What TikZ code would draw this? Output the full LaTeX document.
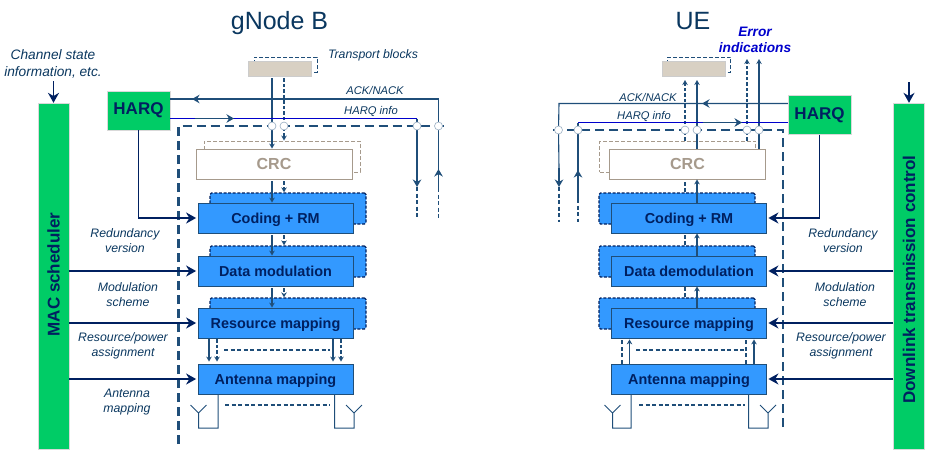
\documentclass[tikz,border=0pt]{standalone}
\usepackage{fontspec}
\setmainfont{Liberation Sans}
\setsansfont{Liberation Sans}
\usetikzlibrary{arrows.meta, positioning, backgrounds}

\definecolor{ctrlgreen}{RGB}{0,204,102}
\definecolor{blockblue}{RGB}{51,153,255}
\definecolor{navy}{RGB}{0,32,96}
\definecolor{sigblue}{RGB}{31,78,121}
\definecolor{inktext}{RGB}{10,55,95}
\definecolor{infoblue}{RGB}{0,0,204}
\definecolor{crctan}{RGB}{166,154,140}
\definecolor{tbfill}{RGB}{216,208,195}

\begin{document}
\begin{tikzpicture}[
    x=1pt, y=-1pt,
    block/.style = {draw=sigblue, fill=blockblue, line width=0.8pt, minimum width=155pt, minimum height=30pt, inner sep=0pt, text height=11pt, text depth=1pt, text=navy, font=\fontsize{14.4}{17}\bfseries},
    crcblock/.style = {draw=crctan, fill=white, line width=0.8pt, minimum width=156pt, minimum height=30pt, inner sep=0pt, text=crctan, font=\fontsize{16}{19}\bfseries},
    tblock/.style = {draw=black!20, fill=tbfill, line width=0.5pt, minimum width=63pt, minimum height=15pt, inner sep=0pt},
    backblock/.style = {draw=navy, fill=blockblue, line width=1.3pt, dash pattern=on 3pt off 1.6pt, rounded corners=1.5pt, minimum width=156pt, minimum height=31pt, inner sep=0pt},
    backcrc/.style = {draw=crctan, fill=white, line width=0.9pt, dash pattern=on 4pt off 2pt, minimum width=156pt, minimum height=31pt, inner sep=0pt},
    backtb/.style = {draw=sigblue, fill=white, line width=1pt, dash pattern=on 4pt off 2pt, minimum width=63pt, minimum height=15pt, inner sep=0pt},
    ctrlbar/.style = {fill=ctrlgreen, draw=black!15, line width=0.3pt, minimum width=31pt, minimum height=346pt, inner sep=0pt},
    harq/.style = {fill=ctrlgreen, draw=black!15, line width=0.3pt, minimum width=63pt, minimum height=39pt, inner sep=0pt, text=navy, font=\fontsize{17}{20}\bfseries},
    barlabel/.style = {rotate=90, text=navy, font=\fontsize{17}{20}\bfseries},
    title/.style = {text=inktext, font=\fontsize{25}{30}\selectfont},
    note/.style = {text=inktext, align=center, inner sep=0pt, font=\fontsize{12.3}{15}\itshape},
    wirenote/.style = {text=inktext, inner sep=0pt, font=\fontsize{11.2}{13}\itshape},
    ring/.style = {circle, draw=sigblue!45, fill=white, line width=0.6pt, minimum size=8pt, inner sep=0pt},
    sig/.style = {draw=sigblue, line width=1.2pt, -{Stealth[open, length=5pt, width=5.5pt, line width=0.9pt]}},
    sigdash/.style = {sig, line width=1.2pt, dash pattern=on 3.5pt off 2pt},
    wire/.style = {draw=sigblue, line width=1.1pt},
    wiredash/.style = {draw=sigblue, line width=1.1pt, dash pattern=on 4pt off 2.5pt},
    infowire/.style = {draw=infoblue, line width=1pt},
    heavy/.style = {draw=sigblue, line width=1.8pt, -{Stealth[length=7.5pt, width=8.5pt]}},
    ctrl/.style = {draw=navy, line width=1.9pt, -{Stealth[length=10pt, width=11pt]}, shorten >=1.5pt},
    border/.style = {draw=sigblue, line width=2.1pt, dash pattern=on 9.5pt off 4.5pt},
    antenna/.style = {draw=sigblue, line width=1pt}
]

\useasboundingbox (0,0) rectangle (934,464);

% =========================================================
% TITLES AND CONTROL BARS
% =========================================================
\node[title] (gnbtitle) at (279.5,23) {gNode B};
\node[title] (uetitle) at (693,21) {UE};

\node[ctrlbar] (mac) at (53.5,276) {};
\node[barlabel] (maclabel) at (53.5,274.5) {MAC scheduler};
\node[ctrlbar] (dlctrl) at (909,276) {};
\node[barlabel] (dllabel) at (909,279.5) {Downlink transmission control};

\node[note, font=\fontsize{13.7}{16.2}\itshape] (csi) at (53,64) {Channel state\\information, etc.};

% =========================================================
% GNB BLOCKS
% =========================================================
\node[tblock] (tbenb) at (280,68.5) {};
\node[crcblock] (crcenb) at (274,164) {CRC};
\node[block, below=23.2pt of crcenb, xshift=1.5pt] (codingenb) {Coding + RM};
\node[block, below=22.2pt of codingenb] (modenb) {Data modulation};
\node[block, below=21.2pt of modenb] (mapenb) {Resource mapping};
\node[block, below=25.2pt of mapenb] (antenb) {Antenna mapping};
\node[harq] (harqenb) at (138.5,110.5) {HARQ};

% =========================================================
% UE BLOCKS
% =========================================================
\node[tblock] (tbue) at (693.5,68.5) {};
\node[crcblock] (crcue) at (687.5,164) {CRC};
\node[block, below=23.2pt of crcue, xshift=1.5pt] (codingue) {Coding + RM};
\node[block, below=22.2pt of codingue] (demodue) {Data demodulation};
\node[block, below=21.2pt of demodue] (mapue) {Resource mapping};
\node[block, below=25.2pt of mapue] (antue) {Antenna mapping};
\node[harq] (harque) at (819.5,115) {HARQ};

% =========================================================
% BLOCKS BEHIND (second layer)
% =========================================================
\begin{scope}[on background layer]
\node[backtb] (tbenbback) at ([shift={(5.5pt,4pt)}]tbenb.center) {};
\node[backtb] (tbueback) at ([shift={(5.5pt,4pt)}]tbue.center) {};
\node[backcrc] (crcenbback) at ([shift={(8pt,7.5pt)}]crcenb.center) {};
\node[backcrc] (crcueback) at ([shift={(-10pt,7.5pt)}]crcue.center) {};
\foreach \blk in {codingenb, modenb, mapenb}
    \node[backblock] (\blk back) at ([shift={(12.5pt,9.5pt)}]\blk.center) {};
\foreach \blk in {codingue, demodue, mapue}
    \node[backblock] (\blk back) at ([shift={(-12pt,9.5pt)}]\blk.center) {};
\end{scope}

% =========================================================
% TAPS ON THE DOMAIN BORDER
% =========================================================
\coordinate (tapa) at (272,126);
\coordinate (tapb) at (284,126);
\coordinate (tapc) at (417,126);
\coordinate (tapd) at (438.5,126);
\coordinate (tape) at (558.5,130);
\coordinate (tapf) at (578,130);
\coordinate (tapg) at (685,130);
\coordinate (taph) at (697,130);
\coordinate (tapi) at (747,130);
\coordinate (tapj) at (759,130);

% Domain borders
\coordinate (enbfoot) at (178.5,444);
\coordinate (enbcorner) at (178.5,126);
\coordinate (enbend) at (448,126);
\coordinate (uefoot) at (783,427);
\coordinate (uecorner) at (783,130);
\coordinate (ueend) at (550,130);
\draw[border] (enbfoot) -- (enbcorner) -- (enbend);
\draw[border] (uefoot) -- (uecorner) -- (ueend);

% =========================================================
% WIRING: GNB DATA PATH
% =========================================================
\foreach \src/\dst in {tbenb/crcenb, crcenb/codingenb, codingenb/modenb, modenb/mapenb}
    \draw[sig, shorten <=2pt] (\src.south -| tapa) -- (\dst.north -| tapa);
\foreach \src/\dst in {tbenb/crcenbback, crcenb/codingenbback, codingenb/modenbback, modenb/mapenbback}
    \draw[sigdash, shorten <=2pt] (\src.south -| tapb) -- (\dst.north -| tapb);

\coordinate (mapa) at (209,350);
\coordinate (mapb) at (217,350);
\coordinate (mapc) at (333,350);
\coordinate (mapd) at (341,350);
\foreach \tap in {mapa, mapc}
    \draw[sig, shorten <=1pt, shorten >=2pt] (mapenb.south -| \tap) -- (antenb.north -| \tap);
\foreach \tap in {mapb, mapd}
    \draw[sigdash, shorten <=1pt, shorten >=2pt] (mapenb.south -| \tap) -- (antenb.north -| \tap);
\coordinate (mapgapl) at (224,350);
\coordinate (mapgapr) at (330,350);
\draw[wiredash] (mapgapl) -- (mapgapr);

% Antennas
\coordinate (antenba) at (218,428);
\coordinate (antenbb) at (198.5,428);
\coordinate (antenbc) at (334.5,428);
\coordinate (antenbd) at (354,428);
\draw[antenna] (antenb.south -| antenba) -- (antenba) -- (antenbb) -- ++(0,-15) -- ++(-8,-8) ++(8,8) -- ++(8,-8);
\draw[antenna] (antenb.south -| antenbc) -- (antenbc) -- (antenbd) -- ++(0,-15) -- ++(-8,-8) ++(8,8) -- ++(8,-8);
\coordinate (antgapl) at (225,405);
\coordinate (antgapr) at (330,405);
\draw[wiredash] (antgapl) -- (antgapr);

% =========================================================
% WIRING: UE DATA PATH
% =========================================================
\foreach \src/\dst in {codingue/crcue, demodue/codingue, mapue/demodue}
    \draw[sig] (\src.north -| taph) -- (\dst.south -| taph);
\foreach \src/\dst in {codingueback/crcue, demodueback/codingue, mapueback/demodue}
    \draw[wiredash] (\src.north -| tapg) -- (\dst.south -| tapg);
\coordinate (tbtipa) at (685,80);
\coordinate (tbtipb) at (697,80);
\coordinate (errtipa) at (747,59);
\coordinate (errtipb) at (759,59);
\draw[sigdash] (crcueback.north -| tapg) -- (tbtipa);
\draw[sig] (crcue.north -| taph) -- (tbtipb);
\draw[sigdash] (crcueback.north -| tapi) -- (errtipa);
\draw[sig] (crcue.north -| tapj) -- (errtipb);

\coordinate (mapuea) at (622,350);
\coordinate (mapueb) at (629.5,350);
\coordinate (mapuec) at (746,350);
\coordinate (mapued) at (754,350);
\foreach \tap in {mapueb, mapued}
    \draw[sig, shorten >=1pt] (antue.north -| \tap) -- (mapue.south -| \tap);
\foreach \tap in {mapuea, mapuec}
    \draw[wiredash] (antue.north -| \tap) -- (mapue.south -| \tap);
\coordinate (mapgapp) at (636,350);
\coordinate (mapgapq) at (744,350);
\draw[wiredash] (mapgapp) -- (mapgapq);

\coordinate (antuea) at (631,428);
\coordinate (antueb) at (612.5,428);
\coordinate (antuec) at (748.5,428);
\coordinate (antued) at (768,428);
\draw[antenna] (antue.south -| antuea) -- (antuea) -- (antueb) -- ++(0,-15) -- ++(-8,-8) ++(8,8) -- ++(8,-8);
\draw[antenna] (antue.south -| antuec) -- (antuec) -- (antued) -- ++(0,-15) -- ++(-8,-8) ++(8,8) -- ++(8,-8);
\coordinate (antgapp) at (639,405);
\coordinate (antgapq) at (745,405);
\draw[wiredash] (antgapp) -- (antgapq);

% =========================================================
% WIRING: HARQ AND ACK/NACK
% =========================================================
% gNB side
\coordinate (ackenb) at (438.5,99);
\coordinate (infoenb) at (417,118.5);
\coordinate (inbasea) at (438.5,188);
\coordinate (intipa) at (438.5,169);
\coordinate (inenda) at (438.5,220);
\coordinate (outbasea) at (417,168);
\coordinate (outtipa) at (417,187);
\coordinate (outenda) at (417,219);
\draw[wire] (harqenb.east |- ackenb) -- (ackenb) -- (tapd) -- (inbasea);
\draw[infowire] (harqenb.east |- infoenb) -- (infoenb);
\draw[wire] (infoenb) -- (tapc) -- (outbasea);
\coordinate (acktaila) at (231,99);
\coordinate (ackheada) at (192,99);
\coordinate (infotaila) at (195,118.5);
\coordinate (infoheada) at (234,118.5);
\draw[heavy] (acktaila) -- (ackheada);
\draw[heavy] (infotaila) -- (infoheada);
\draw[heavy] (inbasea) -- (intipa);
\draw[heavy] (outbasea) -- (outtipa);
\draw[wiredash] (inbasea) -- (inenda);
\draw[wiredash] (outtipa) -- (outenda);

% UE side
\coordinate (ackue) at (559,103.5);
\coordinate (infoue) at (578,122.5);
\coordinate (outbaseb) at (559,168);
\coordinate (outtipb) at (559,187);
\coordinate (outendb) at (559,222);
\coordinate (inbaseb) at (578,199);
\coordinate (intipb) at (578,170);
\coordinate (inendb) at (578,222);
\draw[wire] (harque.west |- ackue) -- (ackue) -- (tape) -- (outbaseb);
\draw[infowire] (harque.west |- infoue) -- (infoue);
\draw[wire] (infoue) -- (tapf) -- (inbaseb);
\coordinate (acktailb) at (741,103.5);
\coordinate (ackheadb) at (702,103.5);
\coordinate (infotailb) at (703,122.5);
\coordinate (infoheadb) at (742,122.5);
\draw[heavy] (acktailb) -- (ackheadb);
\draw[heavy] (infotailb) -- (infoheadb);
\draw[heavy] (outbaseb) -- (outtipb);
\draw[heavy] (inbaseb) -- (intipb);
\draw[wiredash] (outtipb) -- (outendb);
\draw[wiredash] (inbaseb) -- (inendb);

% Rings sit on top of the wires
\foreach \tap in {tapa, tapb, tapc, tapd, tape, tapf, tapg, taph, tapi, tapj}
    \node[ring] (\tap ring) at (\tap) {};

% =========================================================
% WIRING: CONTROL
% =========================================================
\coordinate (csitop) at (53.5,81);
\coordinate (dltop) at (909,82);
\draw[ctrl, shorten >=0pt] (csitop) -- (mac.north);
\draw[ctrl, shorten >=0pt] (dltop) -- (dlctrl.north);

\draw[ctrl] (harqenb.south) |- (codingenb.west);
\draw[ctrl] (harque.south) |- (codingue.east);

\foreach \blk in {modenb, mapenb, antenb}
    \draw[ctrl] (mac.east |- \blk.west) -- (\blk.west);
\foreach \blk in {demodue, mapue, antue}
    \draw[ctrl] (dlctrl.west |- \blk.east) -- (\blk.east);

% =========================================================
% LABELS
% =========================================================
\node[note] (tblabel) at (373,55) {Transport blocks};
\node[wirenote] (acklabela) at (375,90) {ACK/NACK};
\node[wirenote] (infolabela) at (371,111) {HARQ info};
\node[wirenote] (acklabelb) at (648,97) {ACK/NACK};
\node[wirenote] (infolabelb) at (644,116) {HARQ info};
\node[note, text=infoblue, font=\fontsize{13.7}{16}\bfseries\itshape] (errlabel) at (755,39.5) {Error\\indications};

\node[note] (rvenb) at (125,240.5) {Redundancy\\version};
\node[note] (modenblabel) at (128,294.5) {Modulation\\scheme};
\node[note] (resenb) at (123,345.5) {Resource/power\\assignment};
\node[note] (antenblabel) at (127,402.5) {Antenna\\mapping};

\node[note] (rvue) at (843,240.5) {Redundancy\\version};
\node[note] (moduelabel) at (845,294.5) {Modulation\\scheme};
\node[note] (resue) at (841,345.5) {Resource/power\\assignment};

\end{tikzpicture}
\end{document}
